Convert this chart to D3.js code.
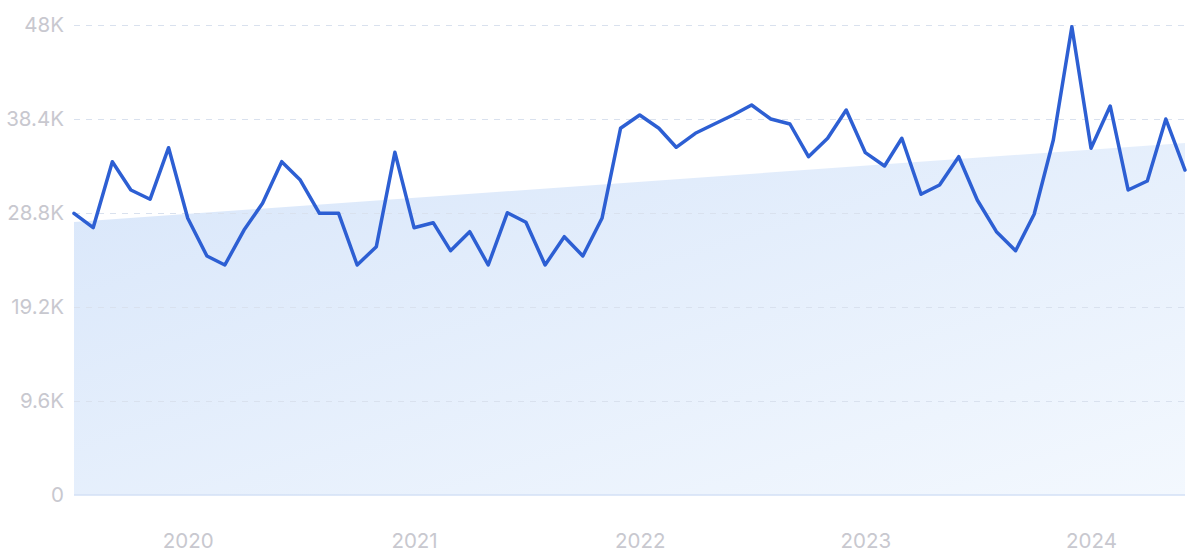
<!DOCTYPE html>
<html>
<head>
<meta charset="utf-8">
<script src="https://cdn.jsdelivr.net/npm/d3@7"></script>
<style>
  html, body { margin: 0; padding: 0; background: #ffffff; }
  svg { display: block; }
</style>
</head>
<body>
<svg id="chart" width="1200" height="559"></svg>
<script>
// Monthly values, Jul 2019 – Jun 2024
const months = d3.range(60).map(i => new Date(2019, 6 + i, 1));
const values = [
  28770, 27300, 34040, 31150, 30200, 35470, 28260, 24410, 23490, 27060,
  29790, 34040, 32170, 28770, 28770, 23490, 25360, 35000, 27300, 27810,
  24950, 26890, 23490, 28830, 27850, 23490, 26380, 24410, 28260, 37450,
  38810, 37450, 35510, 36940, 37860, 38810, 39830, 38400, 37890, 34550,
  36430, 39320, 34960, 33600, 36430, 30710, 31660, 34550, 30130, 26890,
  24950, 28670, 36260, 47830, 35410, 39730, 31150, 32070, 38400, 33190
];
const trendValues = [27880, 35950];
const yTicks = [0, 9600, 19200, 28800, 38400, 48000];
const yTickLabels = ["0", "9.6K", "19.2K", "28.8K", "38.4K", "48K"];
const xTickDates = [2020, 2021, 2022, 2023, 2024].map(yr => new Date(yr, 0, 1));
const xTickLabels = ["2020", "2021", "2022", "2023", "2024"];

const svg = d3.select("#chart");
const mLeft = 74, mRight = 1185, mTop = 25, mBottom = 495;

const x = d3.scaleTime().domain([months[0], months[months.length - 1]]).range([mLeft, mRight]);
const y = d3.scaleLinear().domain([0, 48000]).range([mBottom, mTop]);

const defs = svg.append("defs");
const grad = defs.append("linearGradient").attr("id", "fillGrad")
  .attr("x1", "0").attr("y1", "0").attr("x2", "1").attr("y2", "1");
grad.append("stop").attr("offset", "0%").attr("stop-color", "#d8e6fa");
grad.append("stop").attr("offset", "100%").attr("stop-color", "#f3f8fe");

// trend area
const trend = [
  { d: months[0], v: trendValues[0] },
  { d: months[months.length - 1], v: trendValues[1] }
];
svg.append("path")
  .datum(trend)
  .attr("d", d3.area().x(d => x(d.d)).y0(y(0)).y1(d => y(d.v)))
  .attr("fill", "url(#fillGrad)");

// gridlines
const yAxis = d3.axisLeft(y).tickValues(yTicks)
  .tickFormat((d, i) => yTickLabels[i])
  .tickSize(-(mRight - mLeft)).tickPadding(10);
const gy = svg.append("g").attr("transform", `translate(${mLeft},0)`).call(yAxis);
gy.select(".domain").remove();
gy.selectAll(".tick line")
  .attr("stroke", "#d9e1ee").attr("stroke-dasharray", "6,6").attr("stroke-width", 1)
  .filter(d => d === 0).remove();
gy.selectAll(".tick text")
  .attr("fill", "#c8c8cf").attr("font-size", 20.5)
  .attr("font-family", "Inter, Roboto, sans-serif");

// baseline
svg.append("line")
  .attr("x1", mLeft).attr("x2", mRight).attr("y1", y(0)).attr("y2", y(0))
  .attr("stroke", "#d3e1f6").attr("stroke-width", 1.5);

// x axis
const xAxis = d3.axisBottom(x).tickValues(xTickDates)
  .tickFormat((d, i) => xTickLabels[i]).tickSize(0).tickPadding(38);
const gx = svg.append("g").attr("transform", `translate(0,${mBottom})`).call(xAxis);
gx.select(".domain").remove();
gx.selectAll(".tick text")
  .attr("fill", "#c8c8cf").attr("font-size", 20.5)
  .attr("font-family", "Inter, Roboto, sans-serif");

// line
svg.append("path")
  .datum(values)
  .attr("d", d3.line().x((d, i) => x(months[i])).y(d => y(d)))
  .attr("fill", "none")
  .attr("stroke", "#2d5fd3")
  .attr("stroke-width", 3.5)
  .attr("stroke-linejoin", "round")
  .attr("stroke-linecap", "round");
</script>
</body>
</html>
